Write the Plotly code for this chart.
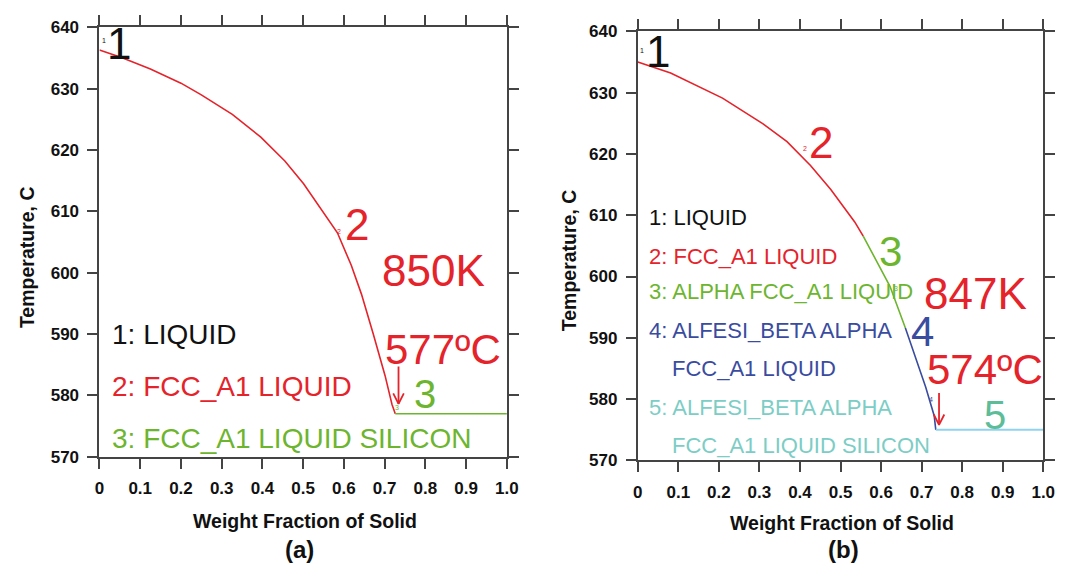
import plotly.graph_objects as go

# ---------------- data ----------------
x_ticks = [0, 0.1, 0.2, 0.3, 0.4, 0.5, 0.6, 0.7, 0.8, 0.9, 1.0]
x_ticktext = ["0", "0.1", "0.2", "0.3", "0.4", "0.5", "0.6", "0.7", "0.8", "0.9", "1.0"]
y_ticks = [570, 580, 590, 600, 610, 620, 630, 640]

# Panel (a) 850K
a_red_x = [0, 0.054, 0.125, 0.200, 0.250, 0.326, 0.396, 0.455, 0.501, 0.547, 0.584, 0.618, 0.643, 0.672, 0.701, 0.718, 0.726]
a_red_T = [636.3, 635.1, 633.2, 630.9, 629.0, 625.8, 622.1, 618.2, 614.5, 610.1, 606.5, 601.2, 596.5, 590.0, 583.2, 578.5, 577.0]
a_green_x = [0.726, 1.0]
a_green_T = [577.0, 577.0]

# Panel (b) 847K
b_red_x = [0, 0.081, 0.209, 0.309, 0.368, 0.426, 0.476, 0.535, 0.556]
b_red_T = [635.0, 633.2, 629.1, 624.9, 622.0, 618.1, 614.2, 608.9, 606.6]
b_green_x = [0.556, 0.593, 0.622, 0.660]
b_green_T = [606.6, 602.1, 598.4, 591.6]
b_blue_x = [0.660, 0.685, 0.710, 0.731, 0.735]
b_blue_T = [591.6, 586.7, 582.0, 577.3, 575.0]
b_cyan_x = [0.735, 1.0]
b_cyan_T = [575.0, 575.0]

a_legend = ["1: LIQUID", "2: FCC_A1 LIQUID", "3: FCC_A1 LIQUID SILICON"]
b_legend = ["1: LIQUID", "2: FCC_A1 LIQUID", "3: ALPHA FCC_A1 LIQUID",
            "4: ALFESI_BETA ALPHA", "FCC_A1 LIQUID",
            "5: ALFESI_BETA ALPHA", "FCC_A1 LIQUID SILICON"]

# ---------------- style ----------------
RED = "#e5232b"
GREEN = "#6db52f"
BLUE = "#3a4c9f"
CYAN = "#8fd3ef"
TEAL = "#7ccdc5"
TEAL5 = "#5cbd98"
BLACK = "#111111"
AXC = "#444444"
FONT = "Liberation Sans"

fig = go.Figure()

def line(x, y, color, xa, ya, w=1.6):
    fig.add_trace(go.Scatter(x=x, y=y, mode="lines", line=dict(color=color, width=w),
                             xaxis=xa, yaxis=ya, showlegend=False, hoverinfo="skip"))

line(a_red_x, a_red_T, RED, "x", "y")
line(a_green_x, a_green_T, GREEN, "x", "y")
line(b_red_x, b_red_T, RED, "x2", "y2")
line(b_green_x, b_green_T, GREEN, "x2", "y2")
line(b_blue_x, b_blue_T, BLUE, "x2", "y2")
line(b_cyan_x, b_cyan_T, CYAN, "x2", "y2", w=2)

# arrows (shaft + open V head)
def arrow(x0, ytop, ytip, xa, ya, hw=0.013, hh=1.7):
    xs = [x0, x0, None, x0 - hw, x0, x0 + hw]
    ys = [ytop, ytip, None, ytip + hh, ytip, ytip + hh]
    line(xs, ys, RED, xa, ya, w=1.8)

arrow(0.734, 584.7, 578.6, "x", "y")
arrow(0.743, 581.0, 575.8, "x2", "y2")

ann = []
def txt(x, y, s, color, size, xa, ya, xanchor="center", bold=False):
    ann.append(dict(x=x, y=y, xref=xa, yref=ya, text=s, showarrow=False,
                    xanchor=xanchor, yanchor="middle",
                    font=dict(family=FONT, size=size, color=color,
                              weight="bold" if bold else "normal")))

# panel (a) labels
txt(0.048, 637.3, "1", BLACK, 44, "x", "y")
txt(0.010, 637.8, "1", BLACK, 7, "x", "y")
txt(0.633, 607.8, "2", RED, 44, "x", "y")
txt(0.589, 606.7, "2", RED, 7, "x", "y")
txt(0.800, 580.2, "3", GREEN, 40, "x", "y")
txt(0.731, 578.0, "3", GREEN, 7, "x", "y")
txt(0.821, 600.3, "850K", RED, 44, "x", "y")
txt(0.843, 587.5, "577ºC", RED, 42, "x", "y")
a_cols = [BLACK, RED, GREEN]
a_ys = [589.9, 581.5, 573.0]
for s, c, yy in zip(a_legend, a_cols, a_ys):
    txt(0.027, yy, s, c, 28, "x", "y", xanchor="left")

# panel (b) labels
txt(0.049, 636.7, "1", BLACK, 44, "x2", "y2")
txt(0.010, 636.9, "1", BLACK, 7, "x2", "y2")
txt(0.452, 621.8, "2", RED, 44, "x2", "y2")
txt(0.412, 620.8, "2", RED, 7, "x2", "y2")
txt(0.624, 604.0, "3", GREEN, 42, "x2", "y2")
txt(0.636, 598.0, "3", GREEN, 7, "x2", "y2")
txt(0.701, 591.0, "4", BLUE, 42, "x2", "y2")
txt(0.722, 580.0, "4", BLUE, 7, "x2", "y2")
txt(0.881, 577.4, "5", TEAL5, 40, "x2", "y2")
txt(0.833, 597.2, "847K", RED, 44, "x2", "y2")
txt(0.856, 584.8, "574ºC", RED, 42, "x2", "y2")
b_cols = [BLACK, RED, GREEN, BLUE, BLUE, TEAL, TEAL]
b_xs = [0.022, 0.022, 0.022, 0.022, 0.080, 0.022, 0.080]
b_ys = [609.6, 603.3, 597.6, 591.2, 585.0, 578.7, 572.4]
for s, c, xx, yy in zip(b_legend, b_cols, b_xs, b_ys):
    txt(xx, yy, s, c, 22, "x2", "y2", xanchor="left")

# axis titles and panel captions
def ptxt(x, y, s, size, angle=0):
    ann.append(dict(x=x, y=y, xref="paper", yref="paper", text=s, showarrow=False,
                    xanchor="center", yanchor="middle", textangle=angle,
                    font=dict(family=FONT, size=size, color=BLACK, weight="bold")))

ptxt(305 / 1070, 1 - 530 / 572, "Weight Fraction of Solid", 19.5)
ptxt(851 / 1070, 1 - 532 / 572, "Weight Fraction of Solid", 19.5)
ptxt(23 / 1070, 1 - 257 / 572, "Temperature, C", 19.5, -90)
ptxt(573 / 1070, 1 - 260 / 572, "Temperature, C", 19.5, -90)
ptxt(299 / 1070, 1 - 559 / 572, "(a)", 24)
ptxt(852 / 1070, 1 - 559 / 572, "(b)", 24)

xax = dict(range=[0, 1], tickvals=x_ticks, ticktext=x_ticktext, showgrid=False, zeroline=False,
           showline=True, mirror="ticks", linecolor=AXC, linewidth=2, ticks="outside",
           ticklen=10, tickwidth=2, tickcolor=AXC, ticklabelstandoff=5,
           tickfont=dict(family=FONT, size=17, color=BLACK, weight="bold"))
yax = dict(range=[570, 640], tickvals=y_ticks, showgrid=False, zeroline=False,
           showline=True, mirror="ticks", linecolor=AXC, linewidth=2, ticks="outside",
           ticklen=10, tickwidth=2, tickcolor=AXC, ticklabelstandoff=5,
           tickfont=dict(family=FONT, size=17, color=BLACK, weight="bold"))

fig.update_layout(
    width=1070, height=572, margin=dict(l=0, r=0, t=0, b=0),
    paper_bgcolor="white", plot_bgcolor="white", showlegend=False,
    xaxis=dict(xax, domain=[96 / 1070, 510 / 1070], anchor="y"),
    yaxis=dict(yax, domain=[1 - 463 / 572, 1 - 19 / 572], anchor="x"),
    xaxis2=dict(xax, domain=[643 / 1070, 1055 / 1070], anchor="y2"),
    yaxis2=dict(yax, domain=[1 - 467 / 572, 1 - 23 / 572], anchor="x2"),
    annotations=ann,
)

fig.write_html("out.html")
